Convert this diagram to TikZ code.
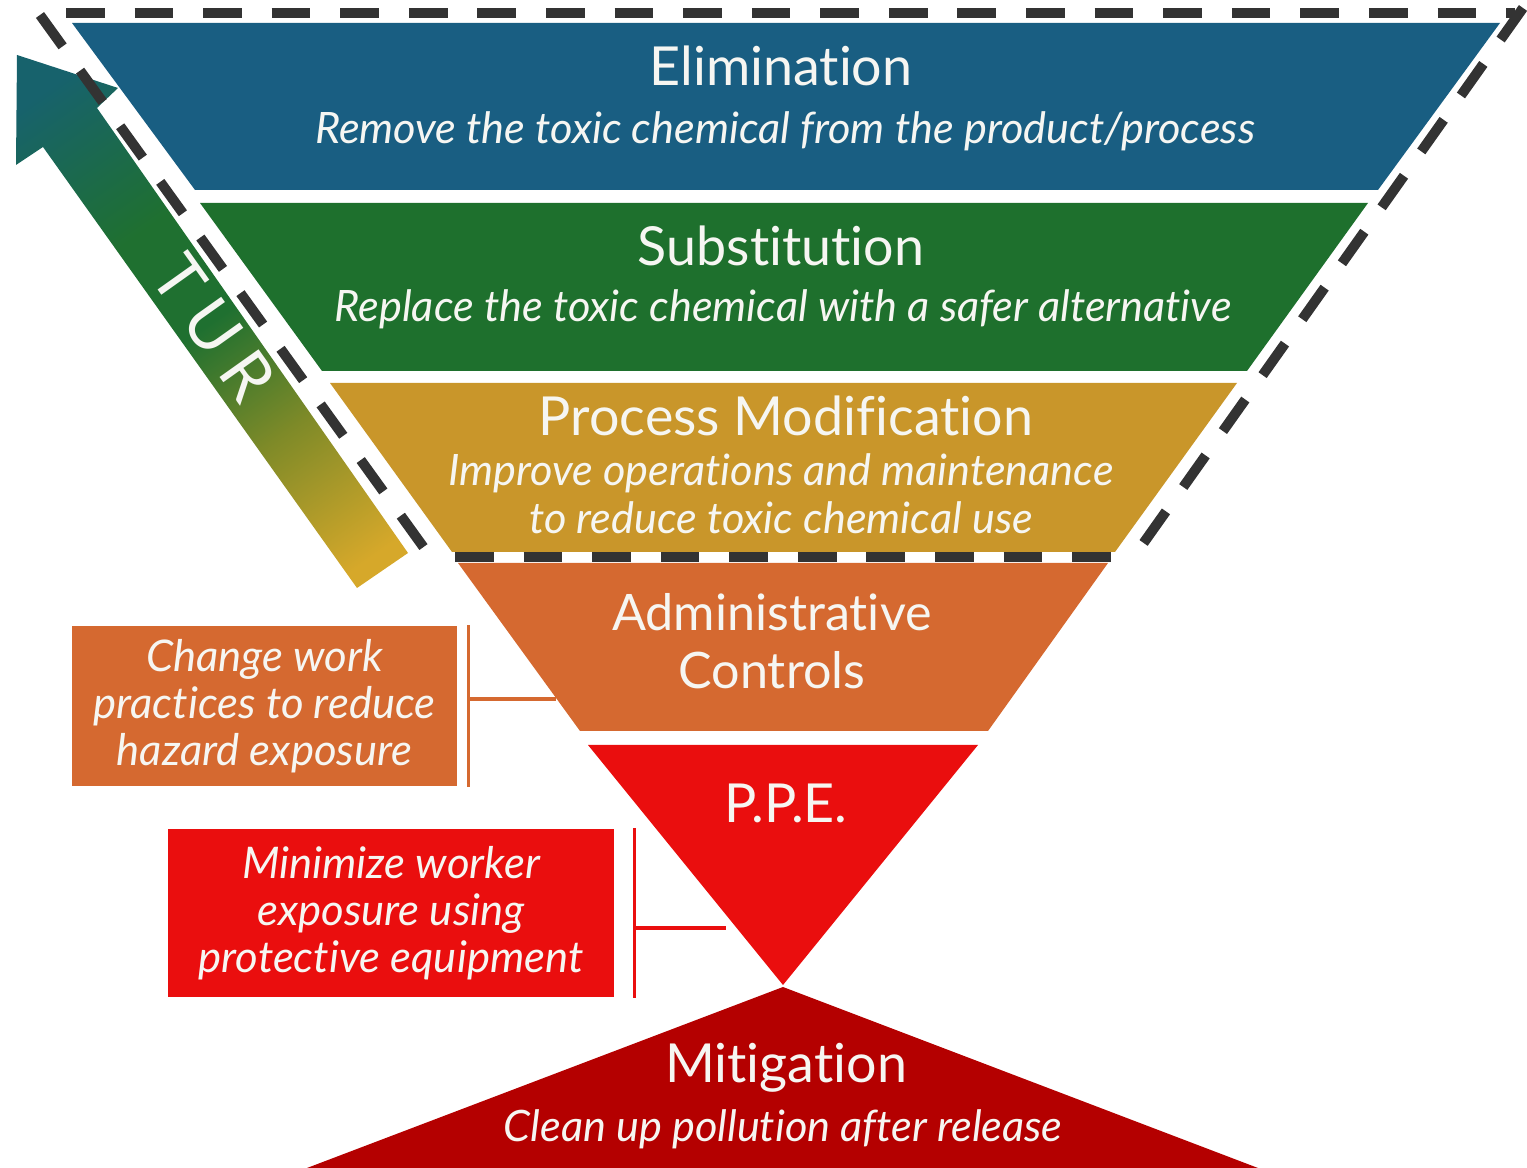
\documentclass[tikz,border=0pt]{standalone}
\usepackage{fontspec}
\setmainfont{Lato}[Ligatures=NoCommon]
\definecolor{elimblue}{HTML}{195E82}
\definecolor{substgreen}{HTML}{1E702D}
\definecolor{procgold}{HTML}{C9962A}
\definecolor{admorange}{HTML}{D56930}
\definecolor{ppered}{HTML}{EA0E0E}
\definecolor{mitigred}{HTML}{B40000}
\definecolor{dashgray}{HTML}{333333}
\definecolor{turteal}{HTML}{17626C}
\definecolor{turgreen}{HTML}{1F7030}
\definecolor{turolive}{HTML}{7E8A28}
\definecolor{turgold}{HTML}{D6A82A}
\definecolor{softwhite}{HTML}{F6F6F2}
\pgfdeclareverticalshading{turshade}{100bp}{color(0bp)=(turgold); color(20bp)=(turgold);
  color(36bp)=(turolive); color(50bp)=(turgreen); color(62bp)=(turgreen);
  color(80bp)=(turteal); color(100bp)=(turteal)}
\tikzset{
  title/.style={text=softwhite, inner sep=0pt, align=center,
    font=\fontsize{15.3}{16.5}\selectfont},
  subline/.style={text=softwhite, inner sep=0pt, align=center,
    font=\fontsize{12.3}{13.7}\selectfont\itshape},
  sidebox/.style={text=softwhite, inner sep=0pt, align=center,
    font=\fontsize{12.4}{13.4}\selectfont\itshape},
  bracket/.style={line width=0.9pt},
  tpsline/.style={line width=2.85pt, dashgray, dash pattern=on 11pt off 8.5pt}
}
\begin{document}
\begin{tikzpicture}[x=0.01cm, y=-0.01cm]
    \useasboundingbox (0,0) rectangle (1527,1168);
    %TUR arrow
    \shade[shading=turshade, shading angle=35]
      (357,588) -- (408,553) -- (97,108) -- (118,88) -- (17,55) -- (16,165) -- (43,147) -- cycle;
    \node[text=softwhite, rotate=-54.6, inner sep=0pt,
      font=\fontsize{19}{19}\selectfont\addfontfeature{LetterSpace=22}] (tur) at (214,328) {TUR};
    %Layers
    \fill[elimblue] (72,23) -- (1500,23) -- (1378,190) -- (195,190) -- cycle;
    \fill[substgreen] (200,203) -- (1368,203) -- (1247,371) -- (322,371) -- cycle;
    \fill[procgold] (330,383) -- (1237,383) -- (1115,552) -- (452,552) -- cycle;
    \fill[admorange] (458,563) -- (1108,563) -- (988,731) -- (580,731) -- cycle;
    \fill[ppered] (588,745) -- (978,745) -- (783,985) -- cycle;
    \fill[mitigred] (783,987) -- (1258,1168) -- (307,1168) -- cycle;
    %Dashed outline
    \draw[tpsline] (66,13) -- (1515,13);
    \draw[tpsline] (40,15) -- (427,552);
    \draw[tpsline] (1523,8) -- (1140,548);
    \draw[tpsline] (455,557) -- (1115,557);
    %Layer labels
    \node[title] (elim) at (781,66) {Elimination};
    \node[subline] (elimtxt) at (785,131) {Remove the toxic chemical from the product/process};
    \node[title] (subst) at (781,246) {Substitution};
    \node[subline] (substtxt) at (783,309) {Replace the toxic chemical with a safer alternative};
    \node[title] (proc) at (786,416) {Process Modification};
    \node[subline] (proctxt) at (781,494) {Improve operations and maintenance\\to reduce toxic chemical use};
    \node[title, font=\fontsize{14.3}{16.5}\selectfont] (adm) at (772,641) {Administrative\\Controls};
    \node[title] (ppe) at (786,803) {P.P.E.};
    \node[title] (mitig) at (786,1068) {Mitigation};
    \node[subline] (mitigtxt) at (783,1129) {Clean up pollution after release};
    %Side boxes
    \node[sidebox, fill=admorange, minimum width=3.85cm, minimum height=1.60cm] (chg) at (264.5,706)
      {Change work\\practices to reduce\\hazard exposure};
    \node[sidebox, fill=ppered, minimum width=4.46cm, minimum height=1.68cm] (mini) at (391,913)
      {Minimize worker\\exposure using\\protective equipment};
    \coordinate (admedge) at (556,699);
    \coordinate (ppeedge) at (726,928);
    %Brackets
    \draw[bracket, admorange] ([xshift=0.11cm]chg.north east) -- ([xshift=0.11cm]chg.south east);
    \draw[bracket, admorange] ([xshift=0.11cm]chg.east |- admedge) -- (admedge);
    \draw[bracket, ppered] ([xshift=0.2cm]mini.north east) -- ([xshift=0.2cm]mini.south east);
    \draw[bracket, ppered] ([xshift=0.2cm]mini.east |- ppeedge) -- (ppeedge);
\end{tikzpicture}
\end{document}
